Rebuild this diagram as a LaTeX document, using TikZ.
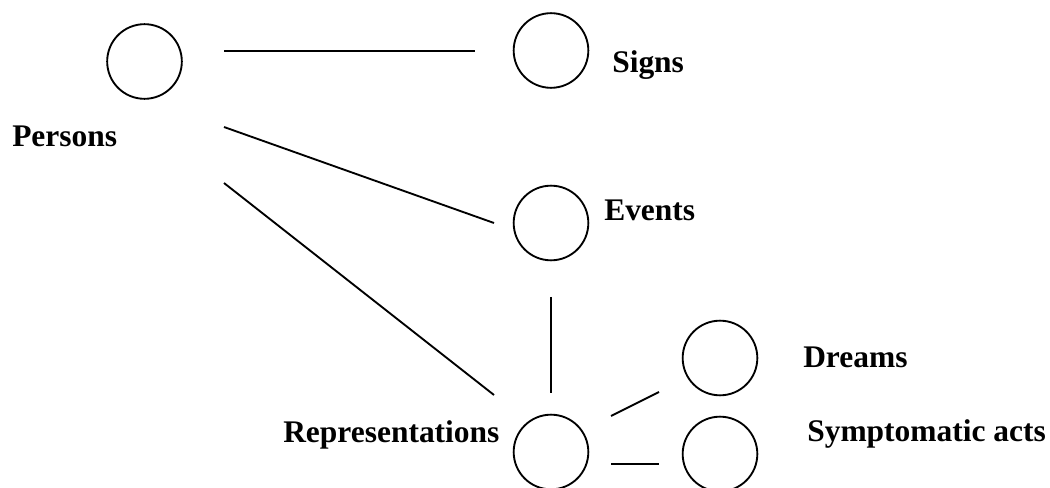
\documentclass[tikz,border=0pt]{standalone}
\usepackage{fontspec}
\setmainfont{Liberation Serif}
\usepackage{tikz}
\usetikzlibrary{positioning}

\begin{document}
\begin{tikzpicture}[
    x=0.75pt, y=-0.75pt,
    ring/.style={circle, draw, line width=1.4pt, minimum size=56pt, inner sep=0pt},
    word/.style={anchor=base west, inner sep=0pt, font=\fontsize{23.6}{28}\selectfont\bfseries},
    link/.style={line width=1.4pt}
]
    \useasboundingbox (0,0) rectangle (1050,488);

    \node[ring] (persons) at (144.5,61.5) {};
    \node[ring] (signs) at (551,50.5) {};
    \node[ring] (events) at (551,223) {};
    \node[ring] (repr) at (551,452) {};
    \node[ring] (dreams) at (720,358) {};
    \node[ring] (sympt) at (720,454) {};

    \node[word] (personsText) at (12,147) {Persons};
    \node[word] (signsText) at (612,73) {Signs};
    \node[word] (eventsText) at (604,221) {Events};
    \node[word] (reprText) at (283,442) {Representations};
    \node[word] (dreamsText) at (803,368) {Dreams};
    \node[word] (symptText) at (807,441) {Symptomatic acts};

    % loose ends of the connectors
    \coordinate (pA) at (224,51);
    \coordinate (sA) at (475,51);
    \coordinate (pB) at (224,127);
    \coordinate (eB) at (494,223);
    \coordinate (pC) at (224,183);
    \coordinate (rC) at (494,395);
    \coordinate (eD) at (551,297);
    \coordinate (rD) at (551,393);
    \coordinate (rE) at (611,416);
    \coordinate (dE) at (659,392);
    \coordinate (rF) at (611,464);
    \coordinate (sF) at (659,464);

    \draw[link] (pA) -- (sA);
    \draw[link] (pB) -- (eB);
    \draw[link] (pC) -- (rC);
    \draw[link] (eD) -- (rD);
    \draw[link] (rE) -- (dE);
    \draw[link] (rF) -- (sF);
\end{tikzpicture}
\end{document}
